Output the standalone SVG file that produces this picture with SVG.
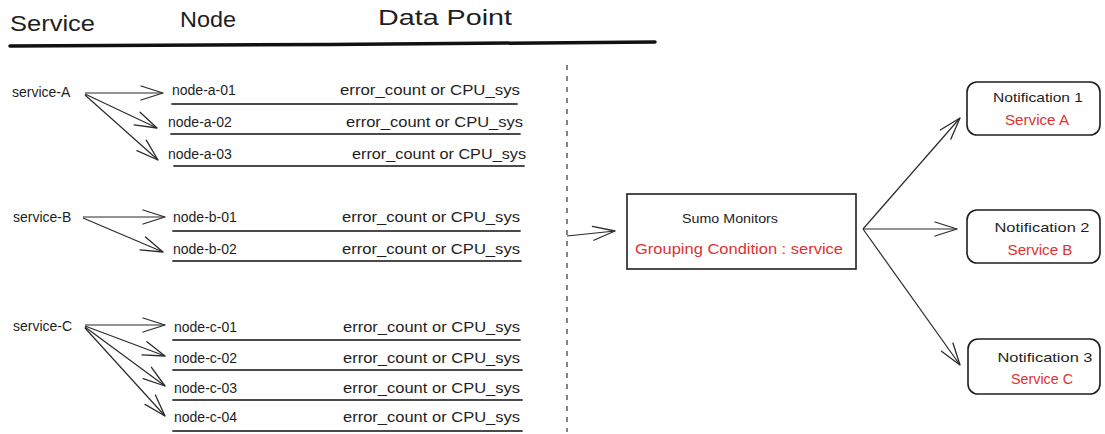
<svg xmlns="http://www.w3.org/2000/svg" width="1105" height="434" viewBox="0 0 1105 434">
<defs>
<style>
text{font-family:"Liberation Sans",Arial,sans-serif;fill:#1e1e1e}
.hdr{font-size:22px}
.svc{font-size:14px}
.nd{font-size:14px}
.dp{font-size:14px}
.red{fill:#e03131}
.ul{stroke:#4a4a4a;stroke-width:1.8;fill:none;stroke-linecap:round}
.ar{stroke:#2b2b2b;stroke-width:1.2;fill:none;marker-end:url(#ah)}
.box{fill:#fff;stroke:#1e1e1e;stroke-width:1.6}
</style>
<marker id="ah" markerUnits="userSpaceOnUse" viewBox="-24 -10 26 20" refX="0" refY="0" markerWidth="26" markerHeight="20" orient="auto">
<path d="M-22,-7 L0,0 L-22,7" fill="none" stroke="#2b2b2b" stroke-width="1.3" stroke-linecap="round" stroke-linejoin="round"/>
</marker>
</defs>
<rect width="1105" height="434" fill="#fff"/>

<g id="header">
<text class="hdr" x="10" y="31" textLength="85" lengthAdjust="spacingAndGlyphs">Service</text>
<text class="hdr" x="180" y="27" textLength="56" lengthAdjust="spacingAndGlyphs">Node</text>
<text class="hdr" x="378" y="25" textLength="134" lengthAdjust="spacingAndGlyphs">Data Point</text>
<path d="M10,46 L330,44.5 L655,42" stroke="#111" stroke-width="3.5" fill="none" stroke-linecap="round"/>
</g>

<g id="divider">
<line x1="567" y1="65" x2="567" y2="432" stroke="#444" stroke-width="1.3" stroke-dasharray="5 6"/>
</g>

<g id="service-a">
<text class="svc" x="12" y="97">service-A</text>
</g>
<g id="service-b">
<text class="svc" x="13" y="222">service-B</text>
</g>
<g id="service-c">
<text class="svc" x="13" y="331">service-C</text>
</g>

<g id="node-a-01">
<text class="nd" x="172" y="95">node-a-01</text>
<text class="dp" x="340" y="95" textLength="180" lengthAdjust="spacingAndGlyphs">error_count or CPU_sys</text>
<line class="ul" x1="172" y1="104" x2="517" y2="104"/>
</g>
<g id="node-a-02">
<text class="nd" x="168" y="127">node-a-02</text>
<text class="dp" x="346" y="127" textLength="177" lengthAdjust="spacingAndGlyphs">error_count or CPU_sys</text>
<line class="ul" x1="171" y1="134" x2="520" y2="134"/>
</g>
<g id="node-a-03">
<text class="nd" x="168" y="159">node-a-03</text>
<text class="dp" x="352" y="159" textLength="174" lengthAdjust="spacingAndGlyphs">error_count or CPU_sys</text>
<line class="ul" x1="174" y1="166" x2="524" y2="166"/>
</g>
<g id="node-b-01">
<text class="nd" x="173" y="222">node-b-01</text>
<text class="dp" x="342" y="222" textLength="178" lengthAdjust="spacingAndGlyphs">error_count or CPU_sys</text>
<line class="ul" x1="173" y1="231" x2="520" y2="231"/>
</g>
<g id="node-b-02">
<text class="nd" x="173" y="254">node-b-02</text>
<text class="dp" x="342" y="254" textLength="178" lengthAdjust="spacingAndGlyphs">error_count or CPU_sys</text>
<line class="ul" x1="173" y1="261" x2="521" y2="261"/>
</g>
<g id="node-c-01">
<text class="nd" x="174" y="332">node-c-01</text>
<text class="dp" x="343" y="332" textLength="177" lengthAdjust="spacingAndGlyphs">error_count or CPU_sys</text>
<line class="ul" x1="173" y1="340" x2="520" y2="340"/>
</g>
<g id="node-c-02">
<text class="nd" x="174" y="363">node-c-02</text>
<text class="dp" x="343" y="363" textLength="177" lengthAdjust="spacingAndGlyphs">error_count or CPU_sys</text>
<line class="ul" x1="173" y1="370" x2="522" y2="370"/>
</g>
<g id="node-c-03">
<text class="nd" x="174" y="393">node-c-03</text>
<text class="dp" x="343" y="393" textLength="177" lengthAdjust="spacingAndGlyphs">error_count or CPU_sys</text>
<line class="ul" x1="173" y1="400" x2="522" y2="400"/>
</g>
<g id="node-c-04">
<text class="nd" x="174" y="422">node-c-04</text>
<text class="dp" x="343" y="422" textLength="177" lengthAdjust="spacingAndGlyphs">error_count or CPU_sys</text>
<line class="ul" x1="173" y1="431" x2="522" y2="431"/>
</g>

<g id="sumo-monitors">
<rect class="box" x="627" y="194" width="229" height="75"/>
<text x="730" y="223" font-size="13" text-anchor="middle" textLength="96" lengthAdjust="spacingAndGlyphs">Sumo Monitors</text>
<text class="red" x="739" y="254" font-size="15" text-anchor="middle" textLength="208" lengthAdjust="spacingAndGlyphs">Grouping Condition : service</text>
</g>

<g id="notification-1">
<rect class="box" x="967" y="82" width="133" height="53" rx="10"/>
<text x="1038" y="102" font-size="13" text-anchor="middle" textLength="90" lengthAdjust="spacingAndGlyphs">Notification 1</text>
<text class="red" x="1037" y="125" font-size="14" text-anchor="middle" textLength="64" lengthAdjust="spacingAndGlyphs">Service A</text>
</g>
<g id="notification-2">
<rect class="box" x="967" y="210" width="133" height="53" rx="10"/>
<text x="1042" y="232" font-size="13" text-anchor="middle" textLength="95" lengthAdjust="spacingAndGlyphs">Notification 2</text>
<text class="red" x="1040" y="255" font-size="14" text-anchor="middle" textLength="65" lengthAdjust="spacingAndGlyphs">Service B</text>
</g>
<g id="notification-3">
<rect class="box" x="968" y="339" width="132" height="55" rx="10"/>
<text x="1045" y="362" font-size="13" text-anchor="middle" textLength="95" lengthAdjust="spacingAndGlyphs">Notification 3</text>
<text class="red" x="1042" y="384" font-size="14" text-anchor="middle" textLength="62" lengthAdjust="spacingAndGlyphs">Service C</text>
</g>

<g id="connectors">
<line class="ar" x1="85" y1="93" x2="163" y2="93"/>
<line class="ar" x1="85" y1="94" x2="157" y2="128"/>
<line class="ar" x1="85" y1="95" x2="158" y2="160"/>
<line class="ar" x1="83" y1="217" x2="165" y2="217"/>
<line class="ar" x1="83" y1="218" x2="163" y2="252"/>
<line class="ar" x1="85" y1="325" x2="165" y2="325"/>
<line class="ar" x1="85" y1="326" x2="165" y2="356"/>
<line class="ar" x1="85" y1="327" x2="165" y2="386"/>
<line class="ar" x1="85" y1="328" x2="165" y2="416"/>
<line class="ar" x1="567" y1="236" x2="615" y2="231"/>
<line class="ar" x1="863" y1="229" x2="960" y2="118"/>
<line class="ar" x1="863" y1="229" x2="957" y2="229"/>
<line class="ar" x1="863" y1="229" x2="960" y2="365"/>
</g>
</svg>
